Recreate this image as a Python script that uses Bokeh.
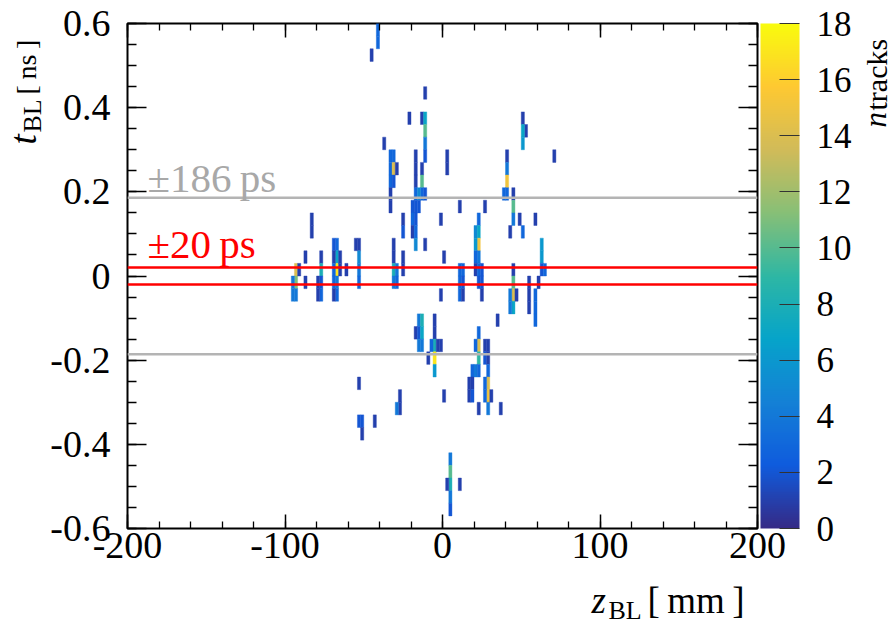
import numpy as np
from bokeh.plotting import figure
from bokeh.models import (LinearAxis, FixedTicker, LinearColorMapper, Span, Label,
                          ColumnDataSource, CustomJSTickFormatter, ColorBar)
from bokeh.transform import transform
from bokeh.layouts import row, column
from bokeh.embed import file_html
from bokeh.resources import INLINE

SERIF = "Liberation Serif"

# ---- 2D histogram of beam-line vertices: 2 mm x 30 ps cells ----
z_bin_width = 2.0     # mm
t_bin_height = 0.03   # ns

z_center = [
    # top
    -41, -41, -45,
    # upper middle
    -11, -21, -13, -11, -11, -11, -11, -37, -33, -31, -33, -31, -29, -33, -31, -33, -33,
    -17, -17, -17, -17, -17, -19, -19, -17, -19, -17, -17,
    -13, -13, -13, -11, -15, -15, 3, 3, -25, -25, -1,
    # upper right
    51, 53, 51, 51, 41, 41, 41, 41, 39, 45, 45, 45, 71, 11, 27, 23, 21, 23, 49, 51, 43, 59,
    # central band
    23, 21, 23, 21, 1, 63, 63, 63, 65, 11, 13, 11, 13, 11, 13, 21, 23, 25, 23, 25, 25,
    45, 45, 45, 45, 43, 43, 47, 55, 55, 55, 59, 59, 59, 61, 35, -1,
    -31, -31, -31, -29, -31, -29, -25, -25, -11,
    # left cluster
    -83, -83, -87, -87, -93, -93, -93, -95, -95, -91, -77, -77, -77, -77, -79, -79,
    -67, -67, -67, -67, -67, -69, -69, -69, -69, -69, -65, -65, -61, -55, -53, -53, -53, -53,
    # lower
    -15, -13, -17, -15, -13, -15, -13, -5, -5, -5, -5, -5, -7, -3, -1, -9,
    23, 23, 21, 27, 29, 23, 27, 29, 19, 21, 23, 17, 19, 17, 19,
    29, 29, 29, 29, 27, 27, 31, 23, 37, 1, -27, -27, -29, -53, -53, -51, -51, -43,
    # bottom
    5, 5, 5, 5, 5, 3, 11,
]

t_center = [
    # top
    0.585, 0.555, 0.525,
    # upper middle
    0.435, 0.375, 0.375, 0.375, 0.345, 0.315, 0.285, 0.315, 0.285, 0.285, 0.255, 0.255, 0.255, 0.225, 0.225, 0.195, 0.165,
    0.285, 0.255, 0.225, 0.195, 0.165, 0.165, 0.135, 0.135, 0.105, 0.105, 0.075,
    0.255, 0.225, 0.195, 0.195, 0.195, 0.165, 0.285, 0.255, 0.135, 0.105, 0.135,
    # upper right
    0.375, 0.345, 0.345, 0.315, 0.285, 0.255, 0.225, 0.195, 0.195, 0.195, 0.165, 0.135, 0.285, 0.165, 0.165, 0.135, 0.105, 0.105, 0.135, 0.105, 0.105, 0.135,
    # central band
    0.075, 0.075, 0.045, 0.045, 0.045, 0.075, 0.045, 0.015, 0.015, 0.015, 0.015, -0.015, -0.015, -0.045, -0.045, 0.015, 0.015, 0.015, -0.015, -0.015, -0.045,
    0.015, -0.015, -0.045, -0.075, -0.045, -0.075, -0.045, -0.015, -0.045, -0.075, -0.045, -0.075, -0.105, -0.015, -0.105, -0.045,
    0.075, 0.045, 0.015, 0.015, -0.015, -0.015, 0.045, 0.015, 0.075,
    # left cluster
    0.135, 0.105, 0.045, -0.015, 0.015, -0.015, -0.045, -0.015, -0.045, 0.015, 0.045, 0.015, -0.015, -0.045, -0.015, -0.045,
    0.075, 0.045, 0.015, -0.015, -0.045, 0.075, 0.045, 0.015, -0.015, -0.045, 0.045, 0.015, 0.015, 0.075, 0.075, 0.045, 0.015, -0.015,
    # lower
    -0.105, -0.105, -0.135, -0.135, -0.135, -0.165, -0.165, -0.105, -0.135, -0.165, -0.195, -0.225, -0.165, -0.165, -0.165, -0.195,
    -0.135, -0.165, -0.165, -0.165, -0.165, -0.195, -0.195, -0.195, -0.225, -0.225, -0.225, -0.255, -0.255, -0.285, -0.285,
    -0.225, -0.255, -0.285, -0.315, -0.255, -0.285, -0.285, -0.315, -0.315, -0.285, -0.285, -0.315, -0.315, -0.255, -0.345, -0.345, -0.375, -0.345,
    # bottom
    -0.435, -0.465, -0.495, -0.525, -0.555, -0.495, -0.495,
]

n_tracks = [
    # top
    3, 3, 1,
    # upper middle
    1, 1, 1, 7, 10, 4, 2, 1, 3, 3, 3, 14, 1, 3, 2, 1, 1,
    1, 1, 1, 3, 2, 2, 3, 2, 1, 3, 5,
    1, 10, 3, 2, 5, 2, 1, 1, 1, 2, 1,
    # upper right
    1, 1, 7, 6, 1, 4, 15, 3, 3, 1, 10, 4, 1, 1, 1, 3, 5, 7, 1, 3, 1, 1,
    # central band
    15, 6, 4, 3, 1, 6, 6, 2, 3, 3, 3, 3, 2, 3, 1, 1, 3, 2, 2, 2, 1,
    1, 10, 14, 7, 4, 4, 1, 1, 1, 1, 3, 3, 3, 1, 1, 1,
    1, 1, 8, 4, 4, 3, 1, 1, 1,
    # left cluster
    1, 1, 1, 1, 14, 11, 4, 4, 4, 1, 1, 8, 2, 3, 1, 1,
    3, 7, 17, 4, 3, 2, 1, 3, 3, 1, 1, 1, 1, 1, 1, 5, 4, 3,
    # lower
    4, 8, 1, 2, 7, 4, 4, 1, 1, 8, 17, 6, 3, 1, 1, 1,
    3, 14, 3, 1, 1, 9, 2, 1, 3, 4, 3, 1, 1, 1, 2,
    3, 14, 15, 4, 3, 3, 1, 1, 1, 1, 1, 1, 4, 1, 2, 2, 1, 1,
    # bottom
    4, 10, 8, 4, 2, 1, 1,
]

# timing windows (ns)
window_wide = 0.186
window_narrow = 0.020
window_wide_text = "\u00b1186\u2009ps"
window_narrow_text = "\u00b120\u2009ps"

# axis ticks and labels
x_ticks = [-200, -100, 0, 100, 200]
x_tick_labels = ["-200", "-100", "0", "100", "200"]
y_ticks = [-0.6, -0.4, -0.2, 0.0, 0.2, 0.4, 0.6]
y_tick_labels = ["-0.6", "-0.4", "-0.2", "0", "0.2", "0.4", "0.6"]
c_ticks = [0, 2, 4, 6, 8, 10, 12, 14, 16, 18]
c_tick_labels = ["0", "2", "4", "6", "8", "10", "12", "14", "16", "18"]
c_low, c_high = 0, 18

x_minor = [float(v) for v in np.arange(-200, 201, 20)]
y_minor = [round(float(v), 2) for v in np.arange(-0.6, 0.601, 0.05)]

# ---- ROOT "bird" palette ----
stops = [0.0, 0.125, 0.25, 0.375, 0.5, 0.625, 0.75, 0.875, 1.0]
red = [0.2082, 0.0592, 0.0780, 0.0232, 0.1802, 0.5301, 0.8186, 0.9956, 0.9764]
green = [0.1664, 0.3599, 0.5041, 0.6419, 0.7178, 0.7492, 0.7328, 0.7862, 0.9832]
blue = [0.5293, 0.8684, 0.8385, 0.7914, 0.6425, 0.4662, 0.3499, 0.1968, 0.0539]
pos = np.linspace(0, 1, 256)
palette = ["#%02x%02x%02x" % (int(round(255 * np.interp(q, stops, red))),
                               int(round(255 * np.interp(q, stops, green))),
                               int(round(255 * np.interp(q, stops, blue)))) for q in pos]
mapper = LinearColorMapper(palette=palette, low=c_low, high=c_high)


def label_formatter(values, texts):
    return CustomJSTickFormatter(args=dict(tick_values=list(values), tick_texts=list(texts)), code="""
        for (let i = 0; i < tick_values.length; i++) {
            if (Math.abs(tick_values[i] - tick) < 1e-6) { return tick_texts[i]; }
        }
        return "";
    """)


def style_axis(ax, ticks, minor, labels=None, major_len=19, minor_len=9, standoff=16, size=38):
    ax.ticker = FixedTicker(ticks=ticks, minor_ticks=minor)
    ax.axis_line_color = None
    ax.major_tick_in = major_len
    ax.major_tick_out = 0
    ax.minor_tick_in = minor_len
    ax.minor_tick_out = 0
    ax.major_tick_line_color = "black"
    ax.major_tick_line_width = 1.5
    ax.minor_tick_line_color = "black"
    ax.minor_tick_line_width = 1.3
    if labels is None:
        ax.formatter = CustomJSTickFormatter(code="return '';")
        ax.major_label_text_font_size = "8px"
        ax.major_label_standoff = standoff
    else:
        ax.formatter = label_formatter(ticks, labels)
        ax.major_label_text_font = SERIF
        ax.major_label_text_font_size = f"{size}px"
        ax.major_label_text_color = "black"
        ax.major_label_standoff = standoff


# vertical centre of a label box sits this fraction of the font size above the baseline
MID = 0.335


def add_text(fig, x, y, text, size, color="black", italic=False, angle=0.0, y_off=0,
             units="data"):
    fig.add_layout(Label(x=x, y=y, x_units=units, y_units=units, text=text,
                         text_font=SERIF, text_font_size=f"{size}px",
                         text_color=color, text_font_style="italic" if italic else "normal",
                         angle=angle, text_align="left", text_baseline="middle",
                         y_offset=y_off))


def text_panel(width, height):
    f = figure(width=width, height=height, x_range=(0, width), y_range=(0, height),
               title=None, output_backend="svg", toolbar_location=None,
               x_axis_location=None, y_axis_location=None,
               min_border_left=0, min_border_right=0, min_border_top=0, min_border_bottom=0)
    f.grid.visible = False
    f.outline_line_color = None
    f.background_fill_color = "white"
    f.border_fill_color = "white"
    return f


# canvas geometry (pixels)
W, H = 893, 626
YT_W = 47                 # strip for the vertical axis title
MAIN_R = 857              # right edge of the histogram panel (colour scale included)
MAIN_H = 575              # histogram panel height, x title strip below
FRAME_L, FRAME_R, FRAME_T, FRAME_B = 125, 757, 23, 528
CB_W = 39
X0, X1, Y0, Y1 = -200, 200, -0.6, 0.6
half_pi = np.pi / 2

# ---- main histogram panel ----
p = figure(width=MAIN_R - YT_W, height=MAIN_H, x_range=(X0, X1), y_range=(Y0, Y1),
           output_backend="svg", toolbar_location=None,
           min_border_left=FRAME_L - YT_W, min_border_right=MAIN_R - FRAME_R,
           min_border_top=FRAME_T, min_border_bottom=MAIN_H - FRAME_B)
p.grid.visible = False
p.outline_line_color = "black"
p.outline_line_width = 2
p.background_fill_color = "white"
p.border_fill_color = "white"

style_axis(p.xaxis[0], x_ticks, x_minor, x_tick_labels, major_len=14, minor_len=7, standoff=4)
style_axis(p.yaxis[0], y_ticks, y_minor, y_tick_labels, major_len=19, minor_len=9, standoff=17)
top_axis = LinearAxis()
style_axis(top_axis, x_ticks, x_minor, None, major_len=14, minor_len=7, standoff=0)
p.add_layout(top_axis, "above")
right_axis = LinearAxis()
style_axis(right_axis, y_ticks, y_minor, None, major_len=19, minor_len=9, standoff=0)
p.add_layout(right_axis, "right")

# blank spacer axis: keeps a small gap between the frame and the colour scale
gap_axis = LinearAxis(ticker=FixedTicker(ticks=y_ticks, minor_ticks=[]),
                      formatter=CustomJSTickFormatter(code="return '';"),
                      axis_line_color=None, major_tick_line_color=None,
                      minor_tick_line_color=None, major_tick_in=0, major_tick_out=3,
                      minor_tick_in=0, minor_tick_out=0, major_label_standoff=0,
                      major_label_text_font_size="8px")
p.add_layout(gap_axis, "right")

src = ColumnDataSource(dict(z=z_center, t=t_center, n=n_tracks))
p.rect(x="z", y="t", width=z_bin_width, height=t_bin_height, source=src,
       fill_color=transform("n", mapper), line_color=transform("n", mapper), line_width=0.4)

for loc in (window_wide, -window_wide):
    p.add_layout(Span(location=loc, dimension="width", line_color="#b4b4b4", line_width=2.5))
for loc in (window_narrow, -window_narrow):
    p.add_layout(Span(location=loc, dimension="width", line_color="#ff0000", line_width=2.5))

text_x = X0 + (145 - FRAME_L) * (X1 - X0) / (FRAME_R - FRAME_L)
add_text(p, text_x, window_wide, window_wide_text, 41, color="#a8a8a8", y_off=20)
add_text(p, text_x, window_narrow, window_narrow_text, 41, color="#ff0000", y_off=24)

# colour scale beside the frame
cbar = ColorBar(color_mapper=mapper, ticker=FixedTicker(ticks=c_ticks),
                formatter=label_formatter(c_ticks, c_tick_labels),
                width=CB_W, height=FRAME_B - FRAME_T, location="top_left",
                padding=0, margin=0, label_standoff=17,
                major_label_text_font=SERIF, major_label_text_font_size="35px",
                major_label_text_color="black",
                major_tick_in=20, major_tick_out=0, major_tick_line_color="#333333",
                major_tick_line_width=1.2, minor_tick_line_color=None,
                bar_line_color=None, border_line_color=None,
                background_fill_color="white", background_fill_alpha=1.0)
p.add_layout(cbar, "right")

# ---- vertical axis title strip: t_BL [ns]; screen units, origin bottom-left ----
yt = text_panel(YT_W, H)
add_text(yt, 35 - MID * 37, H - 144, "t", 37, italic=True, angle=half_pi, units="screen")
add_text(yt, 41 - MID * 26, H - 132, "BL", 26, angle=half_pi, units="screen")
add_text(yt, 35 - MID * 28, H - 94, "[\u2009ns\u2009]", 28, angle=half_pi, units="screen")

# ---- horizontal axis title strip: z_BL [mm]; its frame lines up with the histogram frame ----
XT_H = H - MAIN_H
xt = text_panel(MAIN_R - YT_W, XT_H)
add_text(xt, 589 - FRAME_L, H - (612 - MID * 37), "z", 37, italic=True, units="screen")
add_text(xt, 606 - FRAME_L, H - (619 - MID * 26), "BL", 26, units="screen")
add_text(xt, 645 - FRAME_L, H - (612 - MID * 37), "[\u2009mm\u2009]", 37, units="screen")

# ---- colour scale title strip: n_tracks ----
nt = text_panel(W - MAIN_R, H)
add_text(nt, 885 - MID * 31 - MAIN_R, H - 127, "n", 31, italic=True, angle=half_pi, units="screen")
add_text(nt, 886 - MID * 30 - MAIN_R, H - 110, "tracks", 30, angle=half_pi, units="screen")

layout = row(yt, column(p, xt), nt)
open("out.html", "w").write(file_html(layout, INLINE))
